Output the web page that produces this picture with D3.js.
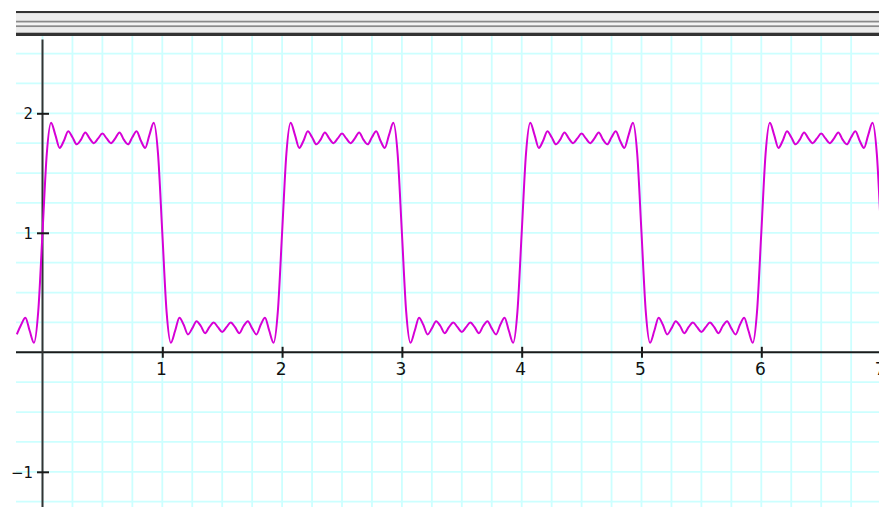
<!DOCTYPE html>
<html><head><meta charset="utf-8">
<script src="https://cdn.jsdelivr.net/npm/d3@7"></script>
<style>html,body{margin:0;padding:0;background:#fff;overflow:hidden}svg{display:block}</style>
</head><body>
<svg id="chart" width="879" height="507"></svg>
<script>
// x tick labels and y tick labels
const xTickValues = [1, 2, 3, 4, 5, 6, 7];
const yTickValues = [-1, 1, 2];
// curve samples: first sample x, spacing between samples (x units)
const curveStartX = -6 / 28;
const curveStepX = 1 / 28;
const curveY = [
  0.15,0.23,0.29,0.18,0.08,0.34,
  1.00,1.66,1.92,1.82,1.71,1.77,1.85,1.80,1.74,1.78,1.84,1.79,1.75,1.79,1.83,1.79,1.75,1.79,1.84,1.78,1.74,1.80,1.85,1.77,1.71,1.82,1.92,1.66,
  1.00,0.34,0.08,0.18,0.29,0.23,0.15,0.20,0.26,0.22,0.16,0.21,0.25,0.21,0.17,0.21,0.25,0.21,0.16,0.22,0.26,0.20,0.15,0.23,0.29,0.18,0.08,0.34,
  1.00,1.66,1.92,1.82,1.71,1.77,1.85,1.80,1.74,1.78,1.84,1.79,1.75,1.79,1.83,1.79,1.75,1.79,1.84,1.78,1.74,1.80,1.85,1.77,1.71,1.82,1.92,1.66,
  1.00,0.34,0.08,0.18,0.29,0.23,0.15,0.20,0.26,0.22,0.16,0.21,0.25,0.21,0.17,0.21,0.25,0.21,0.16,0.22,0.26,0.20,0.15,0.23,0.29,0.18,0.08,0.34,
  1.00,1.66,1.92,1.82,1.71,1.77,1.85,1.80,1.74,1.78,1.84,1.79,1.75,1.79,1.83,1.79,1.75,1.79,1.84,1.78,1.74,1.80,1.85,1.77,1.71,1.82,1.92,1.66,
  1.00,0.34,0.08,0.18,0.29,0.23,0.15,0.20,0.26,0.22,0.16,0.21,0.25,0.21,0.17,0.21,0.25,0.21,0.16,0.22,0.26,0.20,0.15,0.23,0.29,0.18,0.08,0.34,
  1.00,1.66,1.92,1.82,1.71,1.77,1.85,1.80,1.74,1.78,1.84,1.79,1.75,1.79,1.83,1.79,1.75,1.79,1.84,1.78,1.74,1.80,1.85,1.77,1.71,1.82,1.92,1.66,
  1.00,0.34,0.08
];

const svg = d3.select("#chart");
const W = 879, H = 507;
const plot = {left: 16, top: 36, right: 879, bottom: 507};

const x = d3.scaleLinear().domain([0, 7]).range([42.5, 42.5 + 7 * 119.8]);
const y = d3.scaleLinear().domain([0, 2]).range([352.3, 352.3 - 2 * 119.5]);

svg.append("defs").append("clipPath").attr("id", "clip")
  .append("rect").attr("x", plot.left).attr("y", plot.top)
  .attr("width", plot.right - plot.left).attr("height", plot.bottom - plot.top);

const g = svg.append("g").attr("clip-path", "url(#clip)");

// grid every 0.25
const gx = d3.range(-0.25, 7.5, 0.25);
const gy = d3.range(-1.75, 2.75, 0.25);
g.append("g").selectAll("line").data(gx).join("line")
  .attr("x1", d => x(d)).attr("x2", d => x(d))
  .attr("y1", plot.top).attr("y2", plot.bottom)
  .attr("stroke", "#ccffff").attr("stroke-width", 1.8);
g.append("g").selectAll("line").data(gy).join("line")
  .attr("y1", d => y(d)).attr("y2", d => y(d))
  .attr("x1", plot.left).attr("x2", plot.right)
  .attr("stroke", "#ccffff").attr("stroke-width", 1.8);

// axes lines
g.append("line").attr("x1", plot.left).attr("x2", plot.right)
  .attr("y1", y(0)).attr("y2", y(0)).attr("stroke", "#1a1a1a").attr("stroke-width", 2);
g.append("line").attr("x1", x(0)).attr("x2", x(0))
  .attr("y1", 39.5).attr("y2", plot.bottom).attr("stroke", "#333").attr("stroke-width", 2);

// x axis ticks
const xAxis = d3.axisBottom(x).tickValues(xTickValues).tickSize(11).tickFormat(d3.format("d"));
const xg = svg.append("g").attr("transform", `translate(0,${y(0)})`).call(xAxis);
xg.select(".domain").remove();
xg.selectAll(".tick line").attr("y1", -5.5).attr("y2", 5.5).attr("stroke", "#1a1a1a").attr("stroke-width", 2);
xg.selectAll(".tick text").attr("y", 0).attr("dy", 0).attr("transform", "translate(-1.5,23)")
  .attr("fill", "#111").style("font-family", "DejaVu Sans, sans-serif").style("font-size", "17px");

// y axis ticks
const yAxis = d3.axisLeft(y).tickValues(yTickValues).tickSize(11).tickFormat(d => d < 0 ? "\u2212" + Math.abs(d) : d);
const yg = svg.append("g").attr("transform", `translate(${x(0)},0)`).call(yAxis);
yg.select(".domain").remove();
yg.selectAll(".tick line").attr("x1", -5.5).attr("x2", 6.5).attr("stroke", "#1a1a1a").attr("stroke-width", 2);
yg.selectAll(".tick text").attr("x", -9.5).attr("dy", "0.36em")
  .attr("fill", "#111").style("font-family", "DejaVu Sans, sans-serif").style("font-size", "15px");

// curve
const pts = curveY.map((v, i) => [curveStartX + i * curveStepX, v]);
g.append("path").datum(pts)
  .attr("d", d3.line().curve(d3.curveMonotoneX).x(d => x(d[0])).y(d => y(d[1])))
  .attr("fill", "none").attr("stroke", "#d600d6").attr("stroke-width", 2);

// header bar stripes
const stripes = [
  [11, 2.3, "#333"], [13.3, 7.4, "#ececec"], [20.7, 2, "#8a8a8a"], [22.7, 2.6, "#f4f4f4"],
  [25.3, 2, "#8a8a8a"], [27.3, 5.4, "#ececec"], [32.7, 3.3, "#333"]
];
svg.append("g").selectAll("rect").data(stripes).join("rect")
  .attr("x", plot.left).attr("width", W - plot.left)
  .attr("y", d => d[0]).attr("height", d => d[1]).attr("fill", d => d[2]);
</script>
</body></html>
